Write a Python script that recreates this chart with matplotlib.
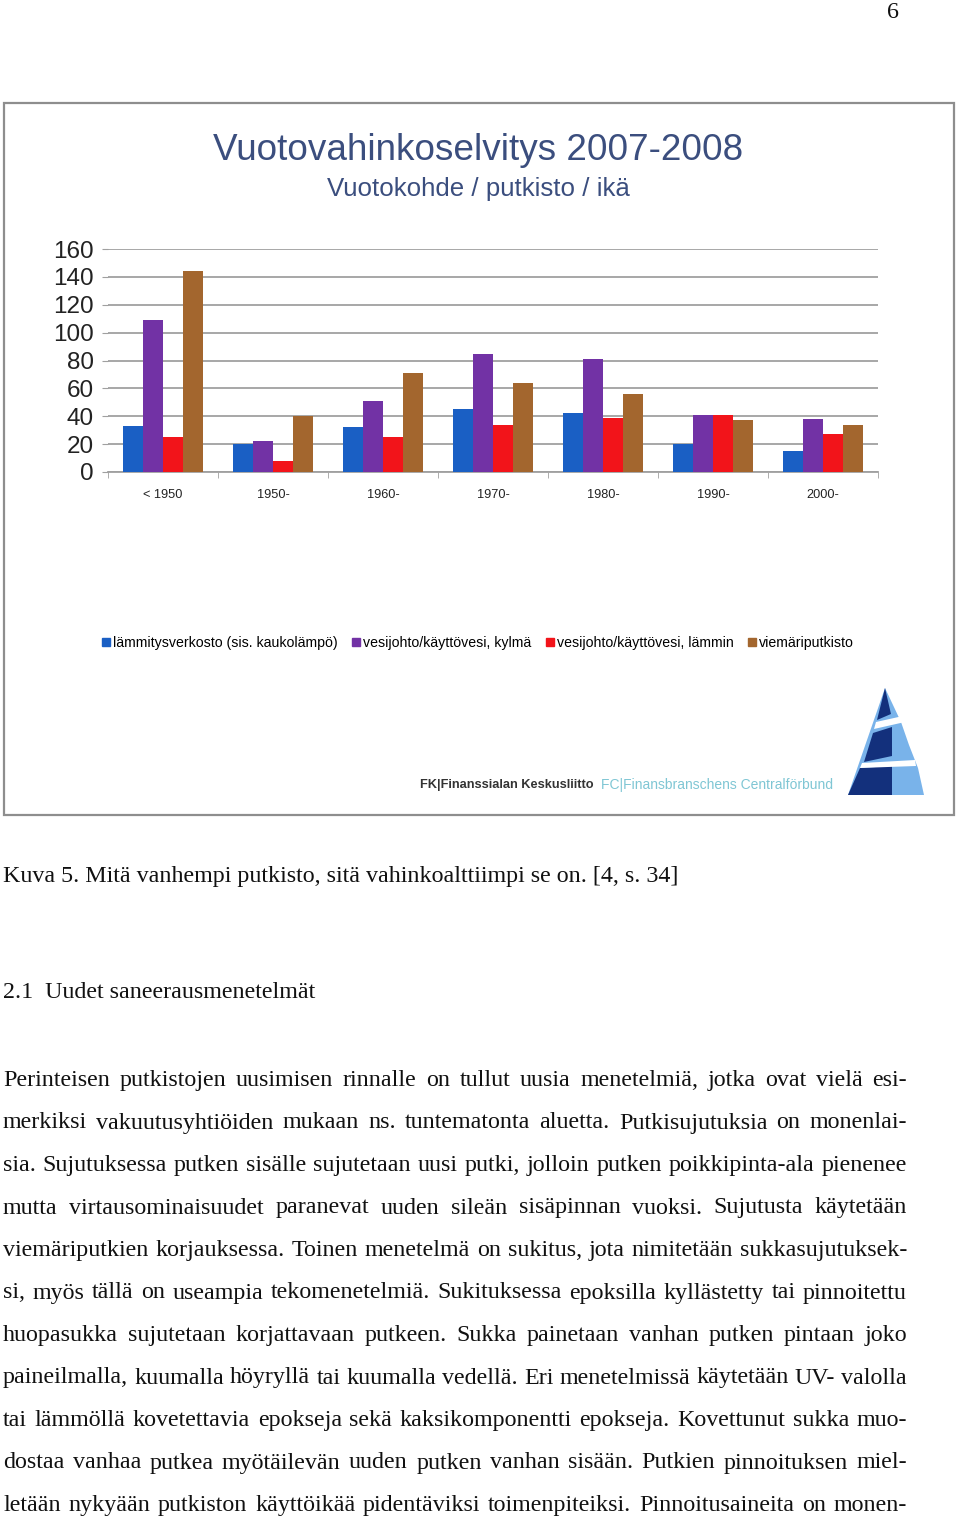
import numpy as np
import matplotlib
matplotlib.use("Agg")
import matplotlib.pyplot as plt
from matplotlib.patches import Rectangle, Polygon, Patch

# data
categories = ["< 1950", "1950-", "1960-", "1970-", "1980-", "1990-", "2000-"]
lammitys = [33, 20, 32, 45, 42, 20, 15]
kylma = [109, 22, 51, 85, 81, 41, 38]
lammin = [25, 8, 25, 34, 39, 41, 27]
viemari = [144, 40, 71, 64, 56, 37, 34]
series_names = ["lämmitysverkosto (sis. kaukolämpö)", "vesijohto/käyttövesi, kylmä",
                "vesijohto/käyttövesi, lämmin", "viemäriputkisto"]
series_colors = ["#1a5fc4", "#7232a5", "#f2141a", "#a3662e"]
yticks = [0, 20, 40, 60, 80, 100, 120, 140, 160]

caption = "Kuva 5. Mitä vanhempi putkisto, sitä vahinkoalttiimpi se on. [4, s. 34]"
heading = "2.1  Uudet saneerausmenetelmät"
body_lines = [
    "Perinteisen putkistojen uusimisen rinnalle on tullut uusia menetelmiä, jotka ovat vielä esi-",
    "merkiksi vakuutusyhtiöiden mukaan ns. tuntematonta aluetta. Putkisujutuksia on monenlai-",
    "sia. Sujutuksessa putken sisälle sujutetaan uusi putki, jolloin putken poikkipinta-ala pienenee",
    "mutta virtausominaisuudet paranevat uuden sileän sisäpinnan vuoksi. Sujutusta käytetään",
    "viemäriputkien korjauksessa. Toinen menetelmä on sukitus, jota nimitetään sukkasujutuksek-",
    "si, myös tällä on useampia tekomenetelmiä. Sukituksessa epoksilla kyllästetty tai pinnoitettu",
    "huopasukka sujutetaan korjattavaan putkeen. Sukka painetaan vanhan putken pintaan joko",
    "paineilmalla, kuumalla höyryllä tai kuumalla vedellä. Eri menetelmissä käytetään UV- valolla",
    "tai lämmöllä kovetettavia epokseja sekä kaksikomponentti epokseja. Kovettunut sukka muo-",
    "dostaa vanhaa putkea myötäilevän uuden putken vanhan sisään. Putkien pinnoituksen miel-",
    "letään nykyään putkiston käyttöikää pidentäviksi toimenpiteiksi. Pinnoitusaineita on monen-",
]

SANS = ["Liberation Sans", "DejaVu Sans"]
SERIF = ["Liberation Serif", "DejaVu Serif"]

W, H = 960, 1525
fig = plt.figure(figsize=(W / 100, H / 100), dpi=100)
fig.patch.set_facecolor("white")

# page background in pixel coordinates
bg = fig.add_axes([0, 0, 1, 1])
bg.set_xlim(0, W)
bg.set_ylim(H, 0)
bg.axis("off")

bg.add_patch(Rectangle((4, 103), 950, 712, fill=False, ec="#8e8e8e", lw=1.6))

bg.text(W / 2 - 2, 151, "Vuotovahinkoselvitys 2007-2008", ha="center", va="center",
        fontsize=26.6, color="#3b4e7e", family=SANS)
bg.text(W / 2 - 2, 189, "Vuotokohde / putkisto / ikä", ha="center", va="center",
        fontsize=18.6, color="#3b4e7e", family=SANS)

# the bar chart
ax = fig.add_axes([108 / W, 1 - 472 / H, 770 / W, 223 / H])
ax.patch.set_alpha(0)
x = np.arange(len(categories))
bw = 0.182
for i, vals in enumerate([lammitys, kylma, lammin, viemari]):
    ax.bar(x + (i - 1.5) * bw, vals, bw, color=series_colors[i], zorder=3)
ax.set_xlim(-0.5, len(categories) - 0.5)
ax.set_ylim(0, 160)
ax.set_yticks(yticks)
ax.set_yticklabels([str(v) for v in yticks], fontsize=17.5, family=SANS, color="#222222")
ax.yaxis.grid(True, color="#a0a0a0", lw=1.3, zorder=0)
ax.tick_params(axis="y", length=4, color="#a0a0a0", pad=6)
ax.set_xticks(x)
ax.set_xticklabels(categories, fontsize=9.2, family=SANS, color="#222222")
ax.set_xticks(np.arange(len(categories) + 1) - 0.5, minor=True)
ax.tick_params(axis="x", which="major", length=0, pad=12)
ax.tick_params(axis="x", which="minor", length=4, color="#a0a0a0")
for s in ["left", "right", "top"]:
    ax.spines[s].set_visible(False)
ax.spines["bottom"].set_color("#a0a0a0")
ax.spines["bottom"].set_linewidth(1.3)

handles = [Patch(color=c, label=n) for c, n in zip(series_colors, series_names)]
fig.legend(handles=handles, loc="center", bbox_to_anchor=(478 / W, 1 - 643 / H), ncol=4,
           frameon=False, handlelength=0.55, handleheight=0.55, handletextpad=0.25,
           columnspacing=1.0, prop={"family": SANS, "size": 10.2})

# logo and organisation names
bg.text(420, 785, "FK|Finanssialan Keskusliitto", ha="left", va="center", fontsize=9.2,
        family=SANS, color="#333333", fontweight="bold")
bg.text(601, 785, "FC|Finansbranschens Centralförbund", ha="left", va="center",
        fontsize=10, family=SANS, color="#7fc6d4")
bg.add_patch(Polygon([(885, 688), (848, 795), (924, 795), (918, 768), (909, 745), (901, 722)],
                     closed=True, fc="#79b3ea", ec="none"))
for poly in ([(885, 688), (877, 720), (891, 714)],
             [(873, 733), (864, 762), (892, 756), (892, 727)],
             [(860, 768), (848, 795), (892, 795), (892, 766)]):
    bg.add_patch(Polygon(poly, closed=True, fc="#13307c", ec="none"))
for poly in ([(876, 722), (874, 729), (905, 722), (903, 716)],
             [(862, 763), (860, 768), (916, 766), (915, 760)]):
    bg.add_patch(Polygon(poly, closed=True, fc="white", ec="none"))

# page text
fig.canvas.draw()
renderer = fig.canvas.get_renderer()


def text_width(s, size):
    t = bg.text(0, 0, s, fontsize=size, family=SERIF)
    w = t.get_window_extent(renderer=renderer).width
    t.remove()
    return w


size = 10 * 676 / text_width(caption, 10)

bg.text(893, 12, "6", ha="center", va="center", fontsize=size, family=SERIF, color="#111111")
bg.text(3, 882, caption, ha="left", va="baseline", fontsize=size, family=SERIF, color="#111111")
bg.text(3, 998, heading, ha="left", va="baseline", fontsize=size, family=SERIF, color="#111111")

left, right = 3, 907
for k, line in enumerate(body_lines):
    words = line.split(" ")
    widths = [text_width(w, size) for w in words]
    gap = (right - left - sum(widths)) / (len(words) - 1)
    xpos = left
    for w, ww in zip(words, widths):
        bg.text(xpos, 1086 + k * 42.5, w, ha="left", va="baseline", fontsize=size,
                family=SERIF, color="#111111")
        xpos += ww + gap

fig.savefig("out.png", dpi=100, facecolor="white")
